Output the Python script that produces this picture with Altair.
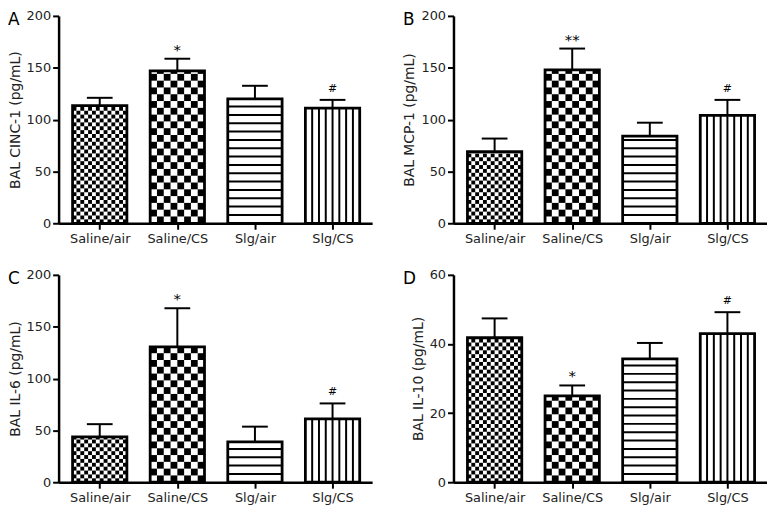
import json
import math
import altair as alt
import pandas as pd

# ---------------- data ----------------
categories = ["Saline/air", "Saline/CS", "Slg/air", "Slg/CS"]
patterns = ["fine_checker", "coarse_checker", "hstripes", "vstripes"]

panel_letters = ["A", "B", "C", "D"]
y_titles = ["BAL CINC-1 (pg/mL)", "BAL MCP-1 (pg/mL)", "BAL IL-6 (pg/mL)", "BAL IL-10 (pg/mL)"]
y_max = [200, 200, 200, 60]
y_ticks = [[0, 50, 100, 150, 200], [0, 50, 100, 150, 200], [0, 50, 100, 150, 200], [0, 20, 40, 60]]

means_A = [113.5, 147.0, 120.0, 111.0]
upper_A = [121.0, 158.7, 132.6, 119.0]
signif_A = ["", "*", "", "#"]

means_B = [69.0, 148.0, 84.0, 104.0]
upper_B = [81.7, 168.5, 97.0, 119.0]
signif_B = ["", "**", "", "#"]

means_C = [43.7, 130.5, 39.0, 61.0]
upper_C = [56.0, 167.8, 53.6, 76.0]
signif_C = ["", "*", "", "#"]

means_D = [41.8, 25.0, 35.7, 43.0]
upper_D = [47.4, 28.0, 40.3, 49.2]
signif_D = ["", "*", "", "#"]

panel_means = [means_A, means_B, means_C, means_D]
panel_upper = [upper_A, upper_B, upper_C, upper_D]
panel_signif = [signif_A, signif_B, signif_C, signif_D]

# ---------------- style ----------------
W, H = 316, 209
X_DOMAIN = [-0.53, 3.51]
BAR_HALF = 0.35
CAP_HALF = 0.166
FONT = "DejaVu Sans"
TXT = "#222222"

label_expr = json.dumps(categories) + "[datum.value]"


def pattern_cells(means, ymax):
    ppu_y = H / ymax
    ppu_x = W / (X_DOMAIN[1] - X_DOMAIN[0])
    rows = []
    for i, (v, p) in enumerate(zip(means, patterns)):
        left, right = i - BAR_HALF, i + BAR_HALF
        if p in ("fine_checker", "coarse_checker"):
            ncol = 14 if p == "fine_checker" else 8
            cw = (right - left) / ncol
            ch = cw * ppu_x / ppu_y
            nrow = int(math.ceil(v / ch))
            for r in range(nrow):
                y0 = r * ch
                y1 = min(v, (r + 1) * ch)
                for c in range(ncol):
                    if (r + c) % 2 == 1:
                        rows.append(dict(x=left + c * cw, x2=left + (c + 1) * cw, y=y0, y2=y1))
        elif p == "hstripes":
            sp = 8.4 / ppu_y
            th = 2.0 / ppu_y
            k = 1
            while k * sp + th < v:
                rows.append(dict(x=left, x2=right, y=k * sp - th / 2, y2=k * sp + th / 2))
                k += 1
        else:
            sp = (right - left) / 8
            th = 2.0 / ppu_x
            for k in range(1, 8):
                rows.append(dict(x=left + k * sp - th / 2, x2=left + k * sp + th / 2, y=0, y2=v))
    return pd.DataFrame(rows)


def panel(idx):
    means = panel_means[idx]
    upper = panel_upper[idx]
    signif = panel_signif[idx]
    ymax = y_max[idx]

    bars = pd.DataFrame({
        "pos": list(range(len(categories))),
        "cat": categories,
        "mean": means,
        "upper": upper,
        "sig": signif,
    })
    bars["left"] = bars["pos"] - BAR_HALF
    bars["right"] = bars["pos"] + BAR_HALF
    bars["capl"] = bars["pos"] - CAP_HALF
    bars["capr"] = bars["pos"] + CAP_HALF
    bars["zero"] = 0.0

    xs = alt.Scale(domain=X_DOMAIN, nice=False, zero=False)
    ys = alt.Scale(domain=[0, ymax], nice=False)

    xaxis = alt.Axis(values=[0, 1, 2, 3], labelExpr=label_expr, title=None, grid=False,
                     tickSize=6, tickWidth=2, tickColor="black", domainColor="black",
                     domainWidth=2.5, labelFont=FONT, labelFontSize=13, labelColor=TXT,
                     labelPadding=3)
    yaxis = alt.Axis(values=y_ticks[idx], title=y_titles[idx], grid=False,
                     tickSize=6, tickWidth=2, tickColor="black", domainColor="black",
                     domainWidth=2.5, labelFont=FONT, labelFontSize=13, labelColor=TXT,
                     labelPadding=2, titleFont=FONT, titleFontSize=14, titleColor=TXT,
                     titleFontWeight="normal", titlePadding=4)

    base = alt.Chart(bars)

    white = base.mark_rect(fill="white").encode(
        x=alt.X("left:Q", scale=xs, axis=xaxis), x2="right:Q",
        y=alt.Y("zero:Q", scale=ys, axis=yaxis), y2="mean:Q")

    cells = alt.Chart(pattern_cells(means, ymax)).mark_rect(fill="black", stroke=None).encode(
        x=alt.X("x:Q", scale=xs), x2="x2:Q",
        y=alt.Y("y:Q", scale=ys), y2="y2:Q")

    outline = base.mark_rect(fill="white", fillOpacity=0, stroke="black", strokeWidth=2.8).encode(
        x=alt.X("left:Q", scale=xs), x2="right:Q",
        y=alt.Y("zero:Q", scale=ys), y2="mean:Q")

    err = base.mark_rule(color="black", strokeWidth=2).encode(
        x=alt.X("pos:Q", scale=xs), y=alt.Y("mean:Q", scale=ys), y2="upper:Q")

    cap = base.mark_rule(color="black", strokeWidth=2).encode(
        x=alt.X("capl:Q", scale=xs), x2="capr:Q", y=alt.Y("upper:Q", scale=ys))

    stars = base.transform_filter("indexof(datum.sig, '*') >= 0").mark_text(
        font=FONT, fontSize=15, color="black", baseline="alphabetic", dy=-4).encode(
        x=alt.X("pos:Q", scale=xs), y=alt.Y("upper:Q", scale=ys), text="sig:N")

    hashes = base.transform_filter("datum.sig == '#'").mark_text(
        font=FONT, fontSize=11, color="black", baseline="alphabetic", dy=-8).encode(
        x=alt.X("pos:Q", scale=xs), y=alt.Y("upper:Q", scale=ys), text="sig:N")

    letter = alt.Chart(pd.DataFrame({"t": [panel_letters[idx]]})).mark_text(
        font=FONT, fontSize=17, color="black", align="left", baseline="alphabetic").encode(
        x=alt.value(-51), y=alt.value(9), text="t:N")

    return alt.layer(white, cells, outline, err, cap, stars, hashes, letter).properties(
        width=W, height=H)


chart = alt.concat(panel(0), panel(1), panel(2), panel(3), columns=2,
                   spacing={"row": 52, "column": 82}, bounds="flush").properties(
    padding={"left": 0, "top": 0, "right": 0, "bottom": 0}
).configure_view(stroke=None)

chart.save("out.html", embed_options={"renderer": "svg", "actions": False})
